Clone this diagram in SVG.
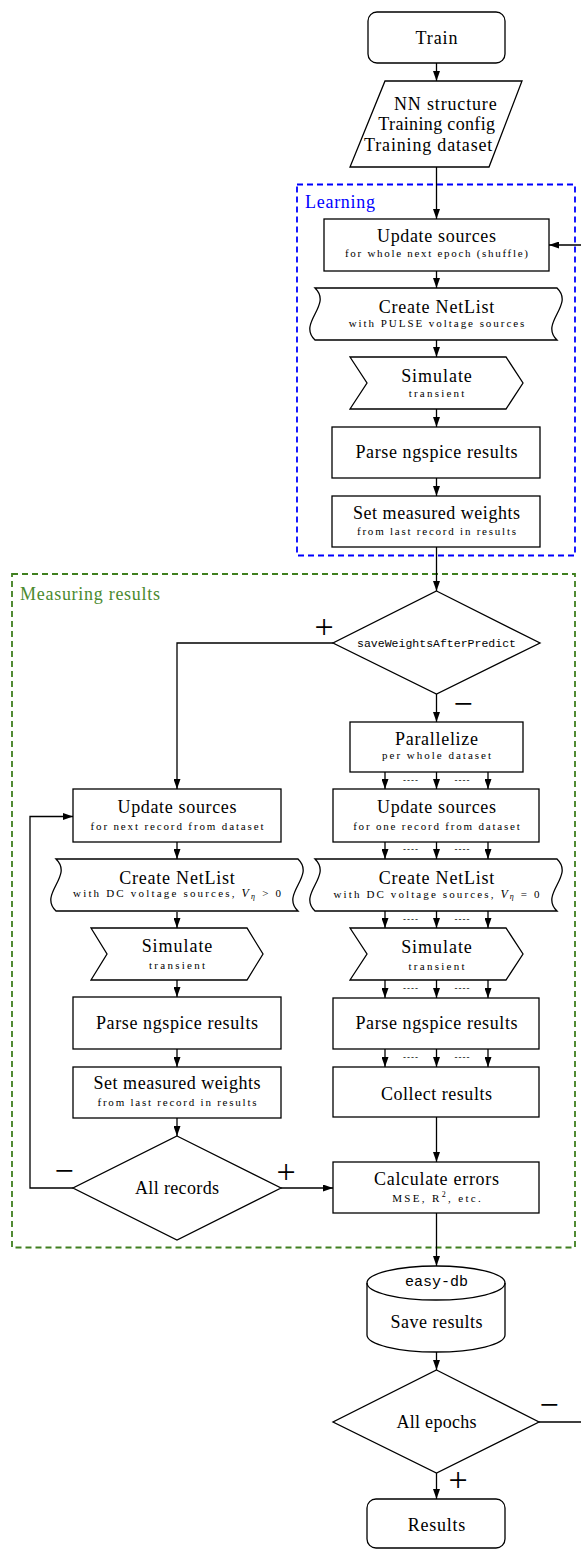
<svg xmlns="http://www.w3.org/2000/svg" width="581" height="1550" viewBox="0 0 581 1550">
<defs>
<style>
.t{font-family:"Liberation Serif",serif;font-size:18px;text-anchor:middle;dominant-baseline:central;fill:#000}
.s{font-family:"Liberation Serif",serif;font-size:11px;text-anchor:middle;dominant-baseline:central;fill:#000}
.m{font-family:"Liberation Mono",monospace;text-anchor:middle;dominant-baseline:central;fill:#000}
.d{font-family:"Liberation Sans",sans-serif;font-size:9px;text-anchor:middle;dominant-baseline:central;fill:#000}
.pm{font-family:"Liberation Serif",serif;font-size:34px;text-anchor:middle;dominant-baseline:central;fill:#000}
.n{fill:#fff;stroke:#000;stroke-width:1.3}
.c{fill:none;stroke:#000;stroke-width:1.3}
.a{marker-end:url(#arr)}
</style>
<marker id="arr" markerUnits="userSpaceOnUse" markerWidth="11" markerHeight="7" refX="10" refY="3.5" orient="auto">
<path d="M0,0 L10,3.5 L0,7 Z" fill="#000"/>
</marker>
</defs>
<rect width="581" height="1550" fill="#fff"/>

<g id="group-learning">
<rect x="297" y="184.5" width="278" height="371" fill="none" stroke="#0000ff" stroke-width="1.8" stroke-dasharray="6,4"/>
<text x="305" y="201.5" font-family="Liberation Serif,serif" font-size="18" dominant-baseline="central" fill="#0000ff" textLength="70" lengthAdjust="spacing">Learning</text>
</g>
<g id="group-measuring">
<rect x="12" y="574" width="563" height="673.5" fill="none" stroke="#3f7f1f" stroke-width="1.8" stroke-dasharray="6,4"/>
<text x="20" y="593.5" font-family="Liberation Serif,serif" font-size="18" dominant-baseline="central" fill="#4a8a2e" textLength="140" lengthAdjust="spacing">Measuring results</text>
</g>

<g id="connectors">
<path class="c a" d="M436.5,63 V81"/>
<path class="c a" d="M436.5,167 V219"/>
<path class="c a" d="M436.5,271 V288"/>
<path class="c a" d="M436.5,340 V357"/>
<path class="c a" d="M436.5,409 V427"/>
<path class="c a" d="M436.5,478 V496"/>
<path class="c a" d="M436.5,547 V591"/>
<path class="c a" d="M333,643 H177 V789"/>
<path class="c a" d="M436.5,694 V722"/>
<path class="c a" d="M385,772 V789"/><path class="c a" d="M436.5,772 V789"/><path class="c a" d="M488,772 V789"/>
<path class="c a" d="M385,842 V859"/><path class="c a" d="M436.5,842 V859"/><path class="c a" d="M488,842 V859"/>
<path class="c a" d="M385,911 V928"/><path class="c a" d="M436.5,911 V928"/><path class="c a" d="M488,911 V928"/>
<path class="c a" d="M385,980 V998"/><path class="c a" d="M436.5,980 V998"/><path class="c a" d="M488,980 V998"/>
<path class="c a" d="M385,1049 V1067"/><path class="c a" d="M436.5,1049 V1067"/><path class="c a" d="M488,1049 V1067"/>
<text class="d" x="410.5" y="780" textLength="15" lengthAdjust="spacing">----</text>
<text class="d" x="462" y="780" textLength="15" lengthAdjust="spacing">----</text>
<text class="d" x="410.5" y="849" textLength="15" lengthAdjust="spacing">----</text>
<text class="d" x="462" y="849" textLength="15" lengthAdjust="spacing">----</text>
<text class="d" x="410.5" y="918.5" textLength="15" lengthAdjust="spacing">----</text>
<text class="d" x="462" y="918.5" textLength="15" lengthAdjust="spacing">----</text>
<text class="d" x="410.5" y="988" textLength="15" lengthAdjust="spacing">----</text>
<text class="d" x="462" y="988" textLength="15" lengthAdjust="spacing">----</text>
<text class="d" x="410.5" y="1057" textLength="15" lengthAdjust="spacing">----</text>
<text class="d" x="462" y="1057" textLength="15" lengthAdjust="spacing">----</text>
<path class="c a" d="M436.5,1117 V1162"/>
<path class="c a" d="M436.5,1213 V1266"/>
<path class="c a" d="M177,842 V859"/>
<path class="c a" d="M177,912 V928"/>
<path class="c a" d="M177,980 V997"/>
<path class="c a" d="M177,1049 V1067"/>
<path class="c a" d="M177,1118 V1136"/>
<path class="c a" d="M73,1188 H30 V816.5 H73"/>
<path class="c a" d="M281,1188 H333"/>
<path class="c a" d="M436.5,1352 V1370"/>
<path class="c a" d="M436.5,1473 V1499"/>
<path class="c a" d="M539,1422 H586 V245 H549"/>
<text class="pm" x="324" y="626">+</text>
<text class="pm" x="463" y="703">−</text>
<text class="pm" x="64" y="1170">−</text>
<text class="pm" x="286" y="1171">+</text>
<text class="pm" x="549" y="1404">−</text>
<text class="pm" x="458" y="1479">+</text>
</g>

<g id="train">
<rect class="n" x="368" y="12" width="137" height="51" rx="9"/>
<text class="t" x="436.5" y="38" textLength="42" lengthAdjust="spacing">Train</text>
</g>
<g id="input">
<polygon class="n" points="385,81 522,81 489,167 350,167"/>
<text class="t" x="445.3" y="104" textLength="102.7" lengthAdjust="spacing">NN structure</text>
<text class="t" x="436.7" y="123.5" textLength="116.7" lengthAdjust="spacing">Training config</text>
<text class="t" x="428.2" y="145" textLength="128.3" lengthAdjust="spacing">Training dataset</text>
</g>
<g id="learn-update">
<rect class="n" x="324" y="219" width="225" height="52"/>
<text class="t" x="436.5" y="236" textLength="119" lengthAdjust="spacing">Update sources</text>
<text class="s" x="436.5" y="253" textLength="183" lengthAdjust="spacing">for whole next epoch (shuffle)</text>
</g>
<g id="learn-netlist">
<path class="n" d="M315,288 H557 C575,305.3 539,322.7 557,340 H315 C297,322.7 333,305.3 315,288 Z"/>
<text class="t" x="436.5" y="306.5" textLength="115.7" lengthAdjust="spacing">Create NetList</text>
<text class="s" x="436.5" y="322.7" textLength="175.7" lengthAdjust="spacing">with PULSE voltage sources</text>
</g>
<g id="learn-simulate">
<polygon class="n" points="350,357 506,357 523,383 506,409 350,409 367,383"/>
<text class="t" x="436.5" y="376" textLength="70.7" lengthAdjust="spacing">Simulate</text>
<text class="s" x="436.5" y="393" textLength="55.7" lengthAdjust="spacing">transient</text>
</g>
<g id="learn-parse">
<rect class="n" x="332" y="427" width="208" height="51"/>
<text class="t" x="436.5" y="452" textLength="162" lengthAdjust="spacing">Parse ngspice results</text>
</g>
<g id="learn-set">
<rect class="n" x="332" y="496" width="208" height="51"/>
<text class="t" x="436.5" y="513" textLength="167" lengthAdjust="spacing">Set measured weights</text>
<text class="s" x="436.5" y="531" textLength="159" lengthAdjust="spacing">from last record in results</text>
</g>
<g id="decision-save">
<polygon class="n" points="436.5,591 540,643 436.5,694 333,643"/>
<text class="m" x="436.5" y="643" font-size="11.5" textLength="159" lengthAdjust="spacing">saveWeightsAfterPredict</text>
</g>
<g id="parallelize">
<rect class="n" x="350" y="722" width="173" height="50"/>
<text class="t" x="436.5" y="739" textLength="83" lengthAdjust="spacing">Parallelize</text>
<text class="s" x="436.5" y="755" textLength="109" lengthAdjust="spacing">per whole dataset</text>
</g>
<g id="par-update">
<rect class="n" x="333" y="789" width="206" height="53"/>
<text class="t" x="436.5" y="806.7" textLength="119" lengthAdjust="spacing">Update sources</text>
<text class="s" x="436.5" y="826" textLength="166.7" lengthAdjust="spacing">for one record from dataset</text>
</g>
<g id="par-netlist">
<path class="n" d="M315,859 H557 C575,876.3 539,893.7 557,911 H315 C297,893.7 333,876.3 315,859 Z"/>
<text class="t" x="436.5" y="877.5" textLength="115.7" lengthAdjust="spacing">Create NetList</text>
<text class="s" x="436.5" y="893.5" textLength="206" lengthAdjust="spacing">with DC voltage sources, <tspan font-style="italic" font-size="12">V</tspan><tspan font-style="italic" font-size="8" dy="2.5">η</tspan><tspan font-size="11" dy="-2.5"> = 0</tspan></text>
</g>
<g id="par-simulate">
<polygon class="n" points="350,928 506,928 523,954 506,980 350,980 367,954"/>
<text class="t" x="436.5" y="947" textLength="70.7" lengthAdjust="spacing">Simulate</text>
<text class="s" x="436.5" y="966" textLength="56" lengthAdjust="spacing">transient</text>
</g>
<g id="par-parse">
<rect class="n" x="333" y="998" width="206" height="51"/>
<text class="t" x="436.5" y="1023" textLength="162" lengthAdjust="spacing">Parse ngspice results</text>
</g>
<g id="collect">
<rect class="n" x="333" y="1067" width="206" height="50"/>
<text class="t" x="436.5" y="1094" textLength="111" lengthAdjust="spacing">Collect results</text>
</g>
<g id="errors">
<rect class="n" x="333" y="1162" width="206" height="51"/>
<text class="t" x="436.5" y="1179" textLength="125" lengthAdjust="spacing">Calculate errors</text>
<text class="s" x="436.5" y="1198" textLength="88.7" lengthAdjust="spacing">MSE, R<tspan font-size="8" dy="-4">2</tspan><tspan dy="4">, etc.</tspan></text>
</g>
<g id="seq-update">
<rect class="n" x="73" y="789" width="208" height="53"/>
<text class="t" x="177" y="806.7" textLength="119" lengthAdjust="spacing">Update sources</text>
<text class="s" x="177" y="825.7" textLength="173" lengthAdjust="spacing">for next record from dataset</text>
</g>
<g id="seq-netlist">
<path class="n" d="M56,859 H298 C316,876.3 280,893.7 298,911 H56 C38,893.7 74,876.3 56,859 Z"/>
<text class="t" x="177" y="877.5" textLength="115.7" lengthAdjust="spacing">Create NetList</text>
<text class="s" x="177" y="893" textLength="208" lengthAdjust="spacing">with DC voltage sources, <tspan font-style="italic" font-size="12">V</tspan><tspan font-style="italic" font-size="8" dy="2.5">η</tspan><tspan font-size="11" dy="-2.5"> &gt; 0</tspan></text>
</g>
<g id="seq-simulate">
<polygon class="n" points="91,928 247,928 263,954 247,980 91,980 107,954"/>
<text class="t" x="177" y="946" textLength="70.7" lengthAdjust="spacing">Simulate</text>
<text class="s" x="177" y="965" textLength="56" lengthAdjust="spacing">transient</text>
</g>
<g id="seq-parse">
<rect class="n" x="73" y="997" width="208" height="52"/>
<text class="t" x="177" y="1023" textLength="162" lengthAdjust="spacing">Parse ngspice results</text>
</g>
<g id="seq-set">
<rect class="n" x="73" y="1067" width="208" height="51"/>
<text class="t" x="177" y="1083.3" textLength="167" lengthAdjust="spacing">Set measured weights</text>
<text class="s" x="177" y="1101.7" textLength="159" lengthAdjust="spacing">from last record in results</text>
</g>
<g id="decision-records">
<polygon class="n" points="177,1136 281,1188 177,1240 73,1188"/>
<text class="t" x="177" y="1188" textLength="84" lengthAdjust="spacing">All records</text>
</g>
<g id="save-db">
<path class="n" d="M367,1283 A69,17 0 0 1 505,1283 V1335 A69,17 0 0 1 367,1335 Z"/>
<path class="c" d="M367,1283 A69,17 0 0 0 505,1283"/>
<text class="m" x="436.5" y="1282.5" font-size="15" textLength="63" lengthAdjust="spacing">easy-db</text>
<text class="t" x="436.5" y="1321.7" textLength="92" lengthAdjust="spacing">Save results</text>
</g>
<g id="decision-epochs">
<polygon class="n" points="436.5,1370 539,1422 436.5,1473 333,1422"/>
<text class="t" x="436.5" y="1421.7" textLength="80" lengthAdjust="spacing">All epochs</text>
</g>
<g id="results">
<rect class="n" x="367" y="1499" width="138" height="49" rx="9"/>
<text class="t" x="436.5" y="1525" textLength="57.7" lengthAdjust="spacing">Results</text>
</g>
</svg>
